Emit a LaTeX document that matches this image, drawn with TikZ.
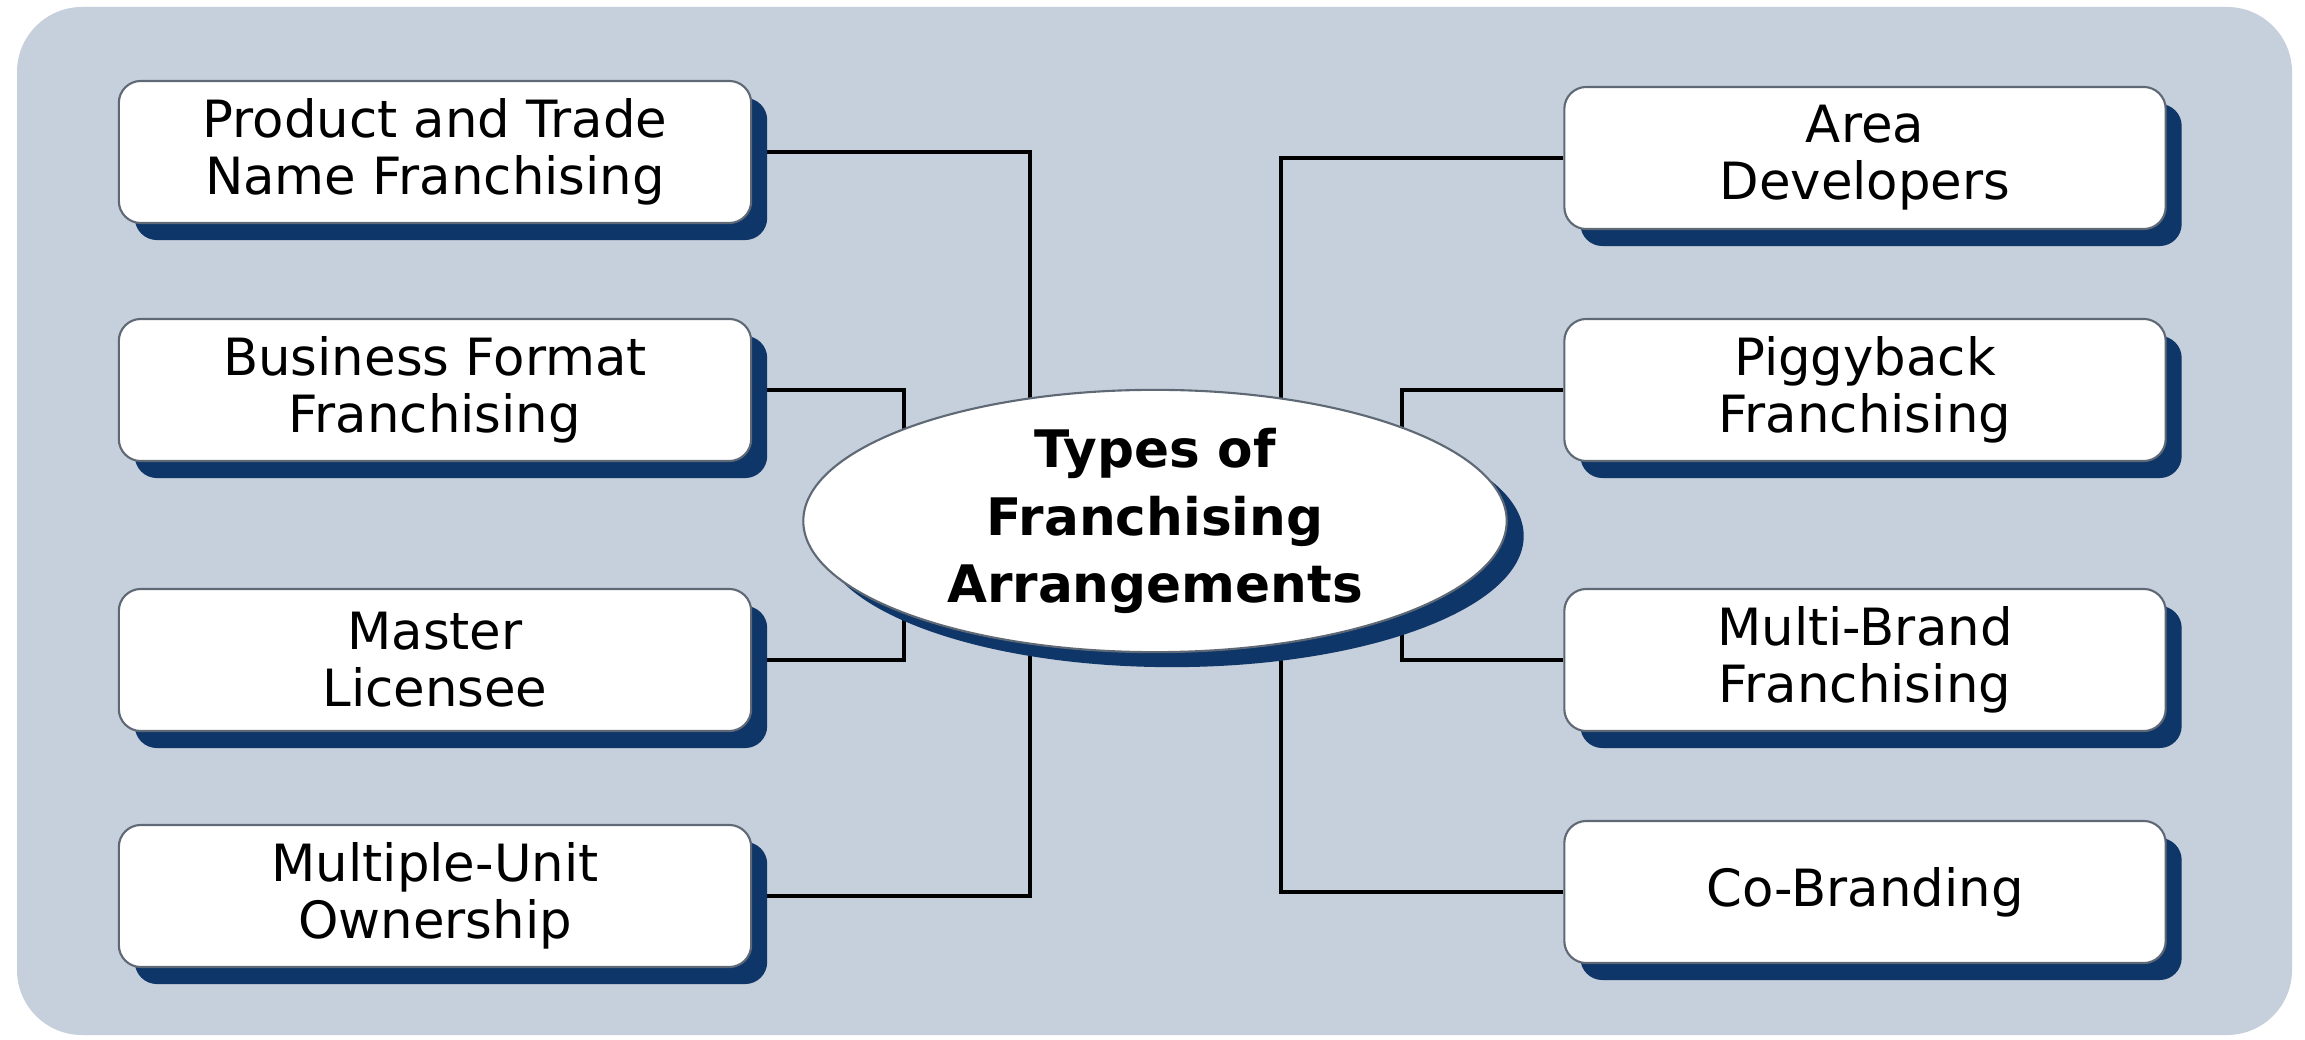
\documentclass[tikz,border=0pt]{standalone}
\usepackage{fontspec}
\setmainfont{DejaVu Sans}
\usetikzlibrary{shapes.geometric,shadows}
\pgfdeclarelayer{bg}
\pgfdeclarelayer{lines}
\pgfsetlayers{bg,lines,main}
\definecolor{panel}{RGB}{198,207,220}
\definecolor{navy}{RGB}{14,54,104}
\definecolor{edgegray}{RGB}{95,105,118}
\tikzset{
  itembox/.style={draw=edgegray, line width=0.6pt, fill=white, rounded corners=0.22cm,
    minimum height=1.42cm, inner sep=0pt, align=center,
    font=\fontsize{14.6pt}{16.2pt}\selectfont,
    general shadow={fill=navy, draw=none, shadow xshift=0.16cm, shadow yshift=-0.17cm}},
  leftbox/.style={itembox, minimum width=6.32cm},
  rightbox/.style={itembox, minimum width=6.01cm},
  hub/.style={ellipse, draw=edgegray, line width=0.6pt, fill=white,
    minimum width=7.03cm, minimum height=2.48cm, inner sep=0pt, align=center,
    font=\bfseries\fontsize{14.7pt}{19.2pt}\selectfont,
    general shadow={fill=navy, draw=none, shadow xshift=0.17cm, shadow yshift=-0.15cm}},
  link/.style={line width=1.2pt, black}
}
\begin{document}
\begin{tikzpicture}[x=0.01cm,y=-0.01cm]
\useasboundingbox (0,0) rectangle (2305,1040);
\begin{pgfonlayer}{bg}
  \fill[white] (0,0) rectangle (2305,1040);
  \fill[panel, rounded corners=0.65cm] (17,7) rectangle (2292,1035);
\end{pgfonlayer}

\node[hub] (hub) at (1155,521) {Types of\\Franchising\\Arrangements};

\node[leftbox] (l1) at (435,152) {Product and Trade\\Name Franchising};
\node[leftbox] (l2) at (435,390) {Business Format\\Franchising};
\node[leftbox] (l3) at (435,660) {Master\\Licensee};
\node[leftbox] (l4) at (435,896) {Multiple-Unit\\Ownership};

\node[rightbox] (r1) at (1865,158) {Area\\Developers};
\node[rightbox] (r2) at (1865,390) {Piggyback\\Franchising};
\node[rightbox] (r3) at (1865,660) {Multi-Brand\\Franchising};
\node[rightbox] (r4) at (1865,892) {Co-Branding};

\coordinate (jl1) at (1030,519);
\coordinate (jl2) at (904,519);
\coordinate (jr1) at (1281,519);
\coordinate (jr2) at (1402,519);

\begin{pgfonlayer}{lines}
  \draw[link] (l1.east) -| (jl1);
  \draw[link] (l4.east) -| (jl1);
  \draw[link] (l2.east) -| (jl2);
  \draw[link] (l3.east) -| (jl2);
  \draw[link] (r1.west) -| (jr1);
  \draw[link] (r4.west) -| (jr1);
  \draw[link] (r2.west) -| (jr2);
  \draw[link] (r3.west) -| (jr2);
\end{pgfonlayer}
\end{tikzpicture}
\end{document}
